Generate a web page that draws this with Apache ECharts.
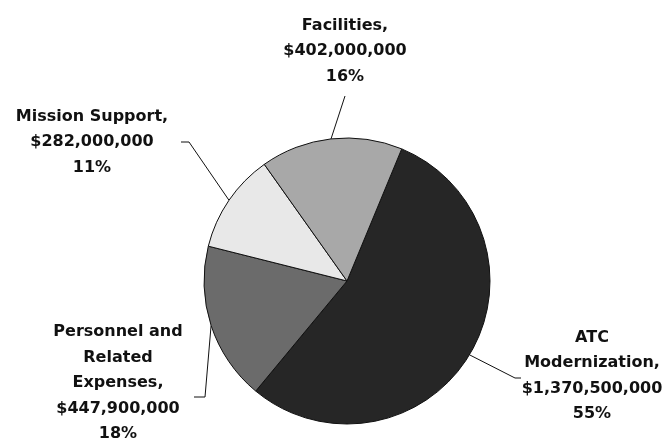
<!DOCTYPE html>
<html>
<head>
<meta charset="utf-8">
<script src="https://cdn.jsdelivr.net/npm/echarts@6/dist/echarts.min.js"></script>
<style>
  html, body { margin: 0; padding: 0; background: #ffffff; }
  #chart { width: 668px; height: 443px; }
</style>
</head>
<body>
<div id="chart"></div>
<script>
// ---- data ----
const categories = ['ATC Modernization', 'Personnel and Related Expenses', 'Mission Support', 'Facilities'];
const labelNames = ['ATC\nModernization,', 'Personnel and\nRelated\nExpenses,', 'Mission Support,', 'Facilities,'];
const amounts = [1370500000, 447900000, 282000000, 402000000];
const sliceColors = ['#262626', '#6b6b6b', '#e8e8e8', '#a8a8a8'];

// ---- layout (label block centres, leader bends relative to label centre) ----
const labelPos = [[592, 376], [118, 383], [92, 142], [345, 51]];
const guideBends = [
  [[-77, 2], [-71, 2]],
  [[87, 14], [76, 14]],
  [[97, 0], [89, 0]],
  [[0, 45], [0, 45]]
];

const chart = echarts.init(document.getElementById('chart'), null, { renderer: 'canvas' });

const seriesData = categories.map((c, i) => ({
  name: c,
  value: amounts[i],
  labelText: labelNames[i],
  itemStyle: { color: sliceColors[i] }
}));

chart.setOption({
  animation: false,
  backgroundColor: '#ffffff',
  series: [{
    type: 'pie',
    center: [347, 281],
    radius: 143,
    startAngle: 67.5,
    clockwise: true,
    percentPrecision: 0,
    avoidLabelOverlap: false,
    data: seriesData,
    itemStyle: { borderColor: '#111111', borderWidth: 1 },
    label: {
      show: true,
      position: 'outside',
      width: 180,
      overflow: 'none',
      formatter: function (p) {
        return p.data.labelText + '\n$' + p.value.toLocaleString('en-US') + '\n' + p.percent + '%';
      },
      fontFamily: 'DejaVu Sans',
      fontWeight: 'bold',
      fontSize: 16,
      lineHeight: 25.5,
      color: '#111111',
      align: 'center'
    },
    labelLine: {
      show: true,
      length: 20,
      length2: 10,
      lineStyle: { color: '#111111', width: 1 }
    },
    labelLayout: function (p) {
      const i = p.dataIndex;
      const x = labelPos[i][0], y = labelPos[i][1];
      const start = p.labelLinePoints[0];
      const b = guideBends[i];
      return {
        x: x,
        y: y,
        align: 'center',
        verticalAlign: 'middle',
        labelLinePoints: [
          [start[0], start[1]],
          [x + b[0][0], y + b[0][1]],
          [x + b[1][0], y + b[1][1]]
        ]
      };
    },
    emphasis: { disabled: true }
  }]
});
</script>
</body>
</html>
